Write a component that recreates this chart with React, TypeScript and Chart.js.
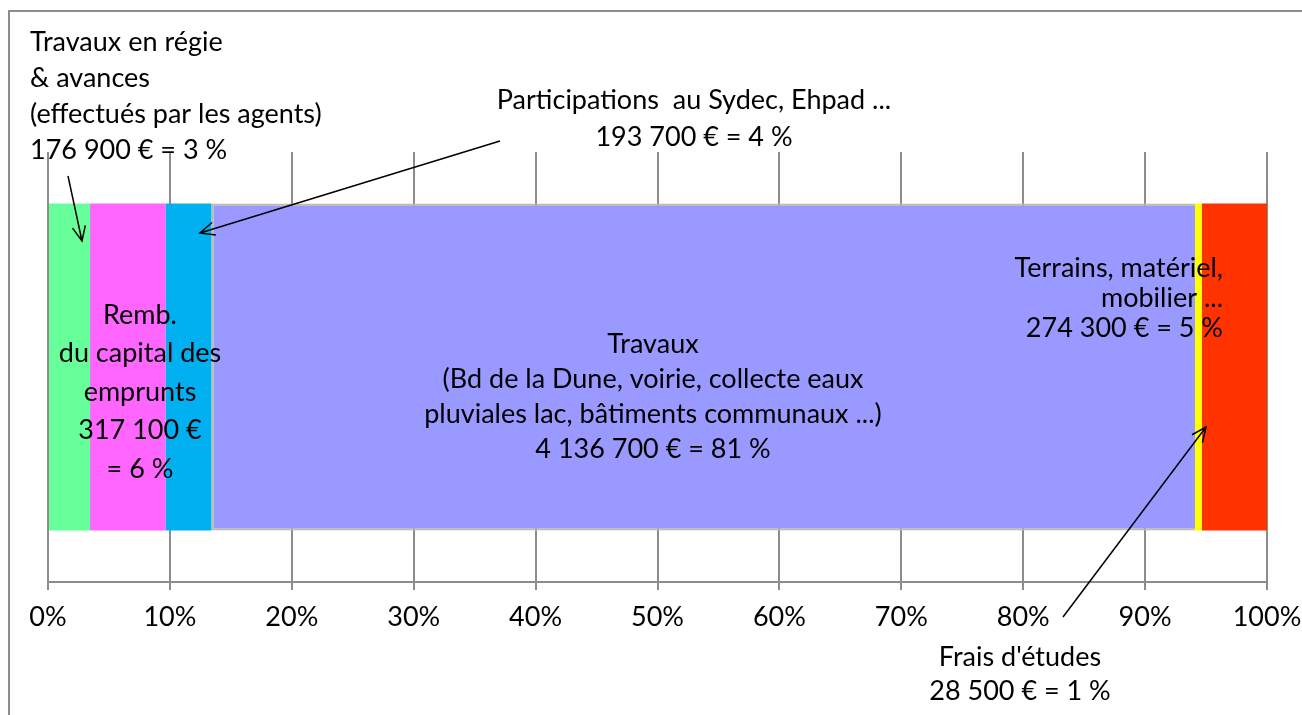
import React, { useEffect, useRef } from "react";
import { Chart, registerables } from "chart.js";

Chart.register(...registerables);

const categories = ["Dépenses d'investissement"];
const seriesNames = [
  "Travaux en régie & avances",
  "Remb. du capital des emprunts",
  "Participations au Sydec, Ehpad",
  "Travaux",
  "Frais d'études",
  "Terrains, matériel, mobilier",
];
const seriesValues = [176900, 317100, 193700, 4136700, 28500, 274300];
const seriesColors = ["#66FF99", "#FF66FF", "#00B0F0", "#9999FF", "#FFFF00", "#FF3300"];
const tickValues = [0, 10, 20, 30, 40, 50, 60, 70, 80, 90, 100];

const FONT = "Lato, 'Open Sans', sans-serif";

type Label = { lines: string[]; x: number; y: number; lh: number; align: CanvasTextAlign };
const labels: Label[] = [
  { lines: ["Travaux en régie", "& avances", "(effectués par les agents)", "176 900 € = 3 %"], x: 30, y: 42, lh: 36, align: "left" },
  { lines: ["Participations  au Sydec, Ehpad ...", "193 700 € = 4 %"], x: 694, y: 100, lh: 37, align: "center" },
  { lines: ["Remb.", "du capital des", "emprunts", "317 100 €", "= 6 %"], x: 140, y: 315, lh: 38.5, align: "center" },
  { lines: ["Travaux", "(Bd de la Dune, voirie, collecte eaux", "pluviales lac, bâtiments communaux ...)", "4 136 700 € = 81 %"], x: 653, y: 344, lh: 35, align: "center" },
  { lines: ["Terrains, matériel,", "mobilier ...", "274 300 € = 5 %"], x: 1223, y: 268, lh: 30, align: "right" },
  { lines: ["Frais d'études", "28 500 € = 1 %"], x: 1020, y: 657, lh: 34, align: "center" },
];
const arrows = [
  { from: [68, 176], to: [82, 241] },
  { from: [500, 141], to: [200, 233] },
  { from: [1063, 617], to: [1206, 427] },
];

const annotationPlugin = {
  id: "annotations",
  beforeDraw(chart: any) {
    const ctx = chart.ctx as CanvasRenderingContext2D;
    ctx.save();
    ctx.strokeStyle = "#8C8C8C";
    ctx.lineWidth = 2;
    ctx.beginPath();
    ctx.moveTo(9, 715);
    ctx.lineTo(9, 11);
    ctx.lineTo(1302, 11);
    ctx.stroke();
    ctx.restore();
  },
  afterDraw(chart: any) {
    const ctx = chart.ctx as CanvasRenderingContext2D;
    ctx.save();
    ctx.fillStyle = "#000";
    ctx.font = `27px ${FONT}`;
    ctx.textBaseline = "middle";
    for (const l of labels) {
      ctx.textAlign = l.align;
      l.lines.forEach((t, i) => ctx.fillText(t, l.x, l.y + i * l.lh));
    }
    ctx.strokeStyle = "#000";
    ctx.lineWidth = 1.5;
    for (const a of arrows) {
      const [x1, y1] = a.from;
      const [x2, y2] = a.to;
      ctx.beginPath();
      ctx.moveTo(x1, y1);
      ctx.lineTo(x2, y2);
      const ang = Math.atan2(y2 - y1, x2 - x1);
      const len = 16;
      const spread = 0.42;
      ctx.moveTo(x2 - len * Math.cos(ang - spread), y2 - len * Math.sin(ang - spread));
      ctx.lineTo(x2, y2);
      ctx.lineTo(x2 - len * Math.cos(ang + spread), y2 - len * Math.sin(ang + spread));
      ctx.stroke();
    }
    ctx.restore();
  },
};

export default function App() {
  const ref = useRef<HTMLCanvasElement | null>(null);
  useEffect(() => {
    if (!ref.current) return;
    const total = seriesValues.reduce((a, b) => a + b, 0);
    const chart = new Chart(ref.current, {
      type: "bar",
      data: {
        labels: categories,
        datasets: seriesNames.map((name, i) => ({
          label: name,
          data: [(seriesValues[i] / total) * 100],
          backgroundColor: seriesColors[i],
          borderColor: i === 3 ? "#C4BD97" : seriesColors[i],
          borderWidth: i === 3 ? { top: 2, bottom: 2, left: 2, right: 0 } : 0,
          borderSkipped: false,
          barPercentage: 0.76,
          categoryPercentage: 1,
        })),
      },
      options: {
        indexAxis: "y",
        responsive: false,
        animation: false,
        layout: { padding: { left: 48, right: 35, top: 152, bottom: 0 } },
        plugins: { legend: { display: false }, tooltip: { enabled: false } },
        scales: {
          x: {
            stacked: true,
            min: 0,
            max: 100,
            afterBuildTicks: (scale: any) => {
              scale.ticks = tickValues.map((v) => ({ value: v }));
            },
            afterFit: (scale: any) => {
              scale.height = 133;
              scale.paddingLeft = 0;
              scale.paddingRight = 0;
            },
            ticks: {
              callback: (v: any) => `${v}%`,
              color: "#000",
              font: { family: FONT, size: 27 },
              padding: 11,
              maxRotation: 0,
              autoSkip: false,
            },
            grid: { color: "#8C8C8C", lineWidth: 2, tickLength: 8, drawOnChartArea: true },
            border: { display: true, color: "#8C8C8C", width: 2 },
          },
          y: { stacked: true, display: false },
        },
      },
      plugins: [annotationPlugin],
    } as any);
    return () => chart.destroy();
  }, []);
  return (
    <div style={{ position: "fixed", left: 0, top: 0, width: 1302, height: 715, background: "#fff" }}>
      <canvas ref={ref} width={1302} height={715} style={{ width: 1302, height: 715, display: "block" }} />
    </div>
  );
}
